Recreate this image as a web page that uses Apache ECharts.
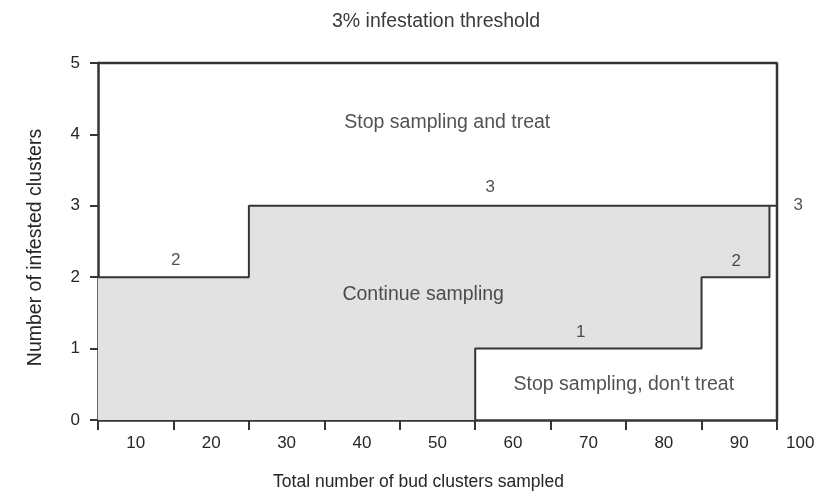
<!DOCTYPE html>
<html>
<head>
<meta charset="utf-8">
<script src="https://cdn.jsdelivr.net/npm/echarts@6/dist/echarts.min.js"></script>
<style>
html,body{margin:0;padding:0;background:#fff;}
#c{width:828px;height:496px;}
</style>
</head>
<body>
<div id="c"></div>
<script>
// Tick labels (x axis labels sit between ticks)
const xTickLabels = ['10', '20', '30', '40', '50', '60', '70', '80', '90'];
const xEndLabel = '100';
// Upper decision line (stop & treat above)
const upperX = [5, 25, 25, 95];
const upperY = [2, 2, 3, 3];
// Lower decision line (stop, don't treat below)
const lowerX = [55, 55, 85, 85, 94, 94];
const lowerY = [0, 1, 1, 2, 2, 3];
// Frame of the 3% infestation threshold
const frameX = [5, 95, 95];
const frameY = [5, 5, 0];
// Decision-line count labels
const countText = ['2', '3', '1', '2', '3'];
const countX = [15.3, 57, 69, 89.6, 97.8];
const countY = [2.23, 3.26, 1.23, 2.22, 3.0];
// Region labels
const regionText = ['Stop sampling and treat', 'Continue sampling', "Stop sampling, don't treat"];
const regionX = [51.3, 48.1, 74.7];
const regionY = [4.17, 1.75, 0.5];

const FONT = 'Liberation Sans, Arial, sans-serif';
const TXT = '#262626';
const LINE = '#353535';

const xMin = 5, xMax = 95;
const capX = lowerX[lowerX.length - 1];
const poly = [[xMin, 0]]
  .concat(upperX.map((x, i) => [Math.min(x, capX), upperY[i]]))
  .concat(lowerX.map((x, i) => [x, lowerY[i]]).reverse());

const chart = echarts.init(document.getElementById('c'), null, {renderer: 'canvas'});
chart.setOption({
  animation: false,
  backgroundColor: '#fff',
  title: {
    text: '3% infestation threshold',
    left: 327, top: 7,
    textStyle: {fontFamily: FONT, fontSize: 19.5, fontWeight: 'normal', color: '#3a3a3a'}
  },
  grid: {left: 98, right: 51, top: 63, bottom: 75},
  xAxis: [{
    type: 'value', min: xMin, max: xMax, interval: 10,
    axisLine: {show: true, lineStyle: {color: LINE, width: 2.5}},
    axisTick: {show: true, length: 10, lineStyle: {color: LINE, width: 2}},
    axisLabel: {show: false},
    splitLine: {show: false},
    name: 'Total number of bud clusters sampled',
    nameLocation: 'middle', nameGap: 53,
    nameTextStyle: {fontFamily: FONT, fontSize: 17.5, color: TXT, padding: [0, 38, 0, 0]}
  }, {
    type: 'category', data: xTickLabels, boundaryGap: true, position: 'bottom',
    axisLine: {show: false}, axisTick: {show: false}, splitLine: {show: false},
    axisLabel: {margin: 15, fontFamily: FONT, fontSize: 17, color: TXT},
    name: xEndLabel, nameLocation: 'end', nameGap: 9,
    nameTextStyle: {fontFamily: FONT, fontSize: 17, color: TXT, verticalAlign: 'top', padding: [15, 0, 0, 0]}
  }],
  yAxis: {
    type: 'value', min: 0, max: 5, interval: 1,
    axisLine: {show: true, lineStyle: {color: LINE, width: 2.5}},
    axisTick: {show: true, length: 8, lineStyle: {color: LINE, width: 2}},
    axisLabel: {margin: 18, fontFamily: FONT, fontSize: 17, color: TXT},
    splitLine: {show: false},
    name: 'Number of infested clusters',
    nameLocation: 'middle', nameGap: 52, nameRotate: 90,
    nameTextStyle: {fontFamily: FONT, fontSize: 19.5, color: TXT, padding: [0, 12, 0, 0]}
  },
  series: [{
    type: 'custom',
    xAxisIndex: 0,
    data: [[xMin, 0]],
    renderItem: function (params, api) {
      return {
        type: 'polygon',
        shape: {points: poly.map(p => api.coord(p))},
        style: {fill: '#e2e2e2', stroke: null}
      };
    },
    silent: true
  }, {
    type: 'line', xAxisIndex: 0, clip: false, symbol: 'none',
    data: frameX.map((x, i) => [x, frameY[i]]),
    lineStyle: {color: LINE, width: 2.5}
  }, {
    type: 'line', xAxisIndex: 0, clip: false, symbol: 'none',
    data: upperX.map((x, i) => [x, upperY[i]]),
    lineStyle: {color: LINE, width: 2}
  }, {
    type: 'line', xAxisIndex: 0, clip: false, symbol: 'none',
    data: lowerX.map((x, i) => [x, lowerY[i]]),
    lineStyle: {color: LINE, width: 2}
  }, {
    type: 'scatter', xAxisIndex: 0, clip: false, symbolSize: 0, silent: true,
    data: countX.map((x, i) => ({value: [x, countY[i]], name: countText[i]})),
    label: {show: true, position: 'inside', formatter: p => p.name,
      fontFamily: FONT, fontSize: 17, color: TXT}
  }, {
    type: 'scatter', xAxisIndex: 0, clip: false, symbolSize: 0, silent: true,
    data: regionX.map((x, i) => ({value: [x, regionY[i]], name: regionText[i]})),
    label: {show: true, position: 'inside', formatter: p => p.name,
      fontFamily: FONT, fontSize: 19.5, color: TXT}
  }]
});
</script>
</body>
</html>
